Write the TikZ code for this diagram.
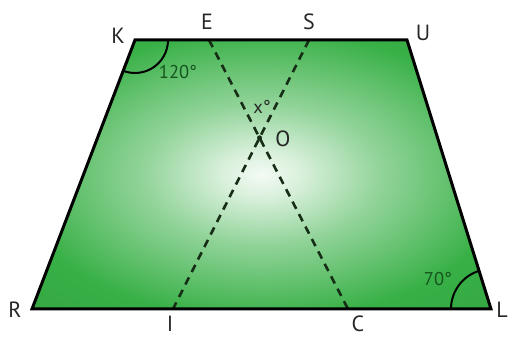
\documentclass[tikz,border=0pt]{standalone}
\usepackage{fontspec}
\setmainfont{PT Sans}
\usepackage{xcolor}
\usepackage{tikz}
\usetikzlibrary{calc}
\definecolor{trapgreen}{RGB}{56,176,70}
\definecolor{anglegreen}{RGB}{20,85,30}
\definecolor{dashgreen}{RGB}{22,45,22}
\pgfdeclareradialshading{trapglow}{\pgfpoint{0bp}{0bp}}{color(0bp)=(trapgreen!6!white); color(4bp)=(trapgreen!18!white); color(13bp)=(trapgreen!55!white); color(27bp)=(trapgreen); color(50bp)=(trapgreen!88!black)}

\begin{document}
\begin{tikzpicture}[x=1pt, y=1pt,
        side/.style={black, line width=3pt, line join=miter},
        diag/.style={dashgreen, line width=2.6pt, dash pattern=on 8pt off 6pt},
        arcline/.style={black, line width=2pt},
        vlab/.style={font=\fontsize{22}{24}\selectfont, text=black!85, inner sep=1pt},
        alab/.style={font=\fontsize{18.5}{20}\selectfont, text=anglegreen}
    ]
    \useasboundingbox (0,0) rectangle (509,337);
    \coordinate (K) at (135,297);
    \coordinate (E) at (209,297);
    \coordinate (S) at (309,297);
    \coordinate (U) at (407,297);
    \coordinate (R) at (32,28);
    \coordinate (I) at (173,28);
    \coordinate (C) at (348,28);
    \coordinate (L) at (491,28);
    \shade[shading=trapglow] (R) -- (L) -- (U) -- (K) -- cycle;
    \draw[diag] (E) -- (C);
    \draw[diag] (S) -- (I);
    \coordinate (O) at (intersection of E--C and S--I);
    \fill[dashgreen] (O) circle (2.5);
    \draw[side] (R) -- (L) -- (U) -- (K) -- cycle;
    \draw[arcline] ($(K)+(33,0)$) arc[start angle=0, end angle=-111, radius=33];
    \draw[arcline] ($(L)+(-40,0)$) arc[start angle=180, end angle=107.3, radius=40];
    \node[vlab] (labK) at (118,301) {K};
    \node[vlab] (labE) at (207,315) {E};
    \node[vlab] (labS) at (309,315) {S};
    \node[vlab] (labU) at (423,304) {U};
    \node[vlab] (labR) at (15,27) {R};
    \node[vlab] (labI) at (170,13) {I};
    \node[vlab] (labC) at (358,13) {C};
    \node[vlab] (labL) at (502,27) {L};
    \node[vlab] (labO) at (283,198) {O};
    \node[alab] (angK) at (178,265) {120°};
    \node[alab] (angL) at (438,58) {70°};
    \node[alab, text=black!85] (angO) at (262,230) {x°};
\end{tikzpicture}
\end{document}
